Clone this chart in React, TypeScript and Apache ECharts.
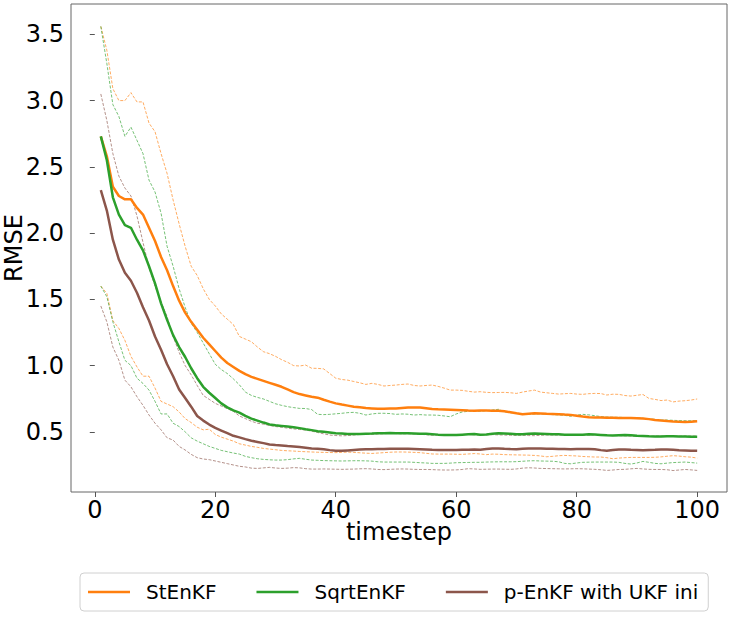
import React, { useEffect, useRef } from "react";
import * as echarts from "echarts";

const timesteps: number[] = Array.from({ length: 100 }, (_, i) => i + 1);

const stenkfMean: number[] = [
  2.73, 2.58, 2.35, 2.28, 2.255, 2.255, 2.19, 2.14, 2.04, 1.94,
  1.82, 1.72, 1.60, 1.49, 1.40, 1.33, 1.27, 1.21, 1.16, 1.11,
  1.06, 1.02, 0.99, 0.96, 0.935, 0.915, 0.90, 0.885, 0.87, 0.855,
  0.84, 0.82, 0.80, 0.785, 0.775, 0.765, 0.758, 0.742, 0.728, 0.715,
  0.706, 0.698, 0.69, 0.685, 0.68, 0.677, 0.674, 0.674, 0.676, 0.677,
  0.68, 0.683, 0.683, 0.684, 0.678, 0.672, 0.67, 0.669, 0.667, 0.665,
  0.663, 0.661, 0.66, 0.662, 0.661, 0.66, 0.66, 0.655, 0.648, 0.64,
  0.633, 0.637, 0.64, 0.638, 0.636, 0.635, 0.633, 0.63, 0.628, 0.622,
  0.616, 0.611, 0.609, 0.608, 0.607, 0.606, 0.605, 0.604, 0.604, 0.603,
  0.6, 0.596, 0.59, 0.585, 0.581, 0.578, 0.576, 0.575, 0.577, 0.58,
];
const stenkfUpper: number[] = [
  3.56, 3.38, 3.09, 3.0, 3.0, 3.06, 2.99, 2.99, 2.83, 2.765,
  2.6, 2.45, 2.25, 2.07, 1.9, 1.75, 1.68, 1.58, 1.5, 1.45,
  1.39, 1.35, 1.31, 1.22, 1.2, 1.18, 1.14, 1.105, 1.09, 1.07,
  1.045, 1.025, 1.0, 0.997, 1.004, 0.98, 0.979, 0.975, 0.94, 0.905,
  0.895, 0.89, 0.88, 0.87, 0.858, 0.866, 0.858, 0.846, 0.85, 0.853,
  0.858, 0.861, 0.85, 0.846, 0.85, 0.853, 0.843, 0.83, 0.815, 0.815,
  0.813, 0.806, 0.8, 0.803, 0.798, 0.796, 0.797, 0.798, 0.795, 0.79,
  0.8, 0.808, 0.815, 0.8, 0.795, 0.79, 0.785, 0.788, 0.79, 0.785,
  0.783, 0.788, 0.79, 0.789, 0.778, 0.784, 0.783, 0.774, 0.77, 0.776,
  0.782, 0.752, 0.745, 0.736, 0.74, 0.726, 0.732, 0.735, 0.74, 0.748,
];
const stenkfLower: number[] = [
  1.6, 1.545, 1.34, 1.28, 1.19, 1.07, 0.99, 0.92, 0.92, 0.83,
  0.73, 0.71, 0.69, 0.65, 0.6, 0.57, 0.535, 0.515, 0.52, 0.48,
  0.46, 0.445, 0.43, 0.41, 0.4, 0.39, 0.383, 0.375, 0.37, 0.365,
  0.36, 0.357, 0.355, 0.352, 0.35, 0.348, 0.346, 0.345, 0.344, 0.343,
  0.345, 0.347, 0.345, 0.342, 0.339, 0.337, 0.34, 0.343, 0.346, 0.348,
  0.348, 0.347, 0.345, 0.343, 0.338, 0.333, 0.332, 0.332, 0.332, 0.331,
  0.33, 0.333, 0.336, 0.333, 0.328, 0.332, 0.331, 0.328, 0.327, 0.326,
  0.325, 0.324, 0.322, 0.318, 0.312, 0.315, 0.32, 0.322, 0.32, 0.318,
  0.314, 0.312, 0.31, 0.31, 0.305, 0.297, 0.302, 0.305, 0.307, 0.307,
  0.307, 0.307, 0.308, 0.311, 0.316, 0.32, 0.317, 0.312, 0.309, 0.302,
];

const sqrtMean: number[] = [
  2.73, 2.55, 2.27, 2.14, 2.06, 2.04, 1.95, 1.87, 1.75, 1.62,
  1.47, 1.345, 1.23, 1.14, 1.065, 0.98, 0.905, 0.84, 0.795, 0.755,
  0.715, 0.685, 0.662, 0.645, 0.62, 0.6, 0.585, 0.57, 0.556, 0.549,
  0.545, 0.54, 0.535, 0.528, 0.52, 0.513, 0.505, 0.5, 0.495, 0.49,
  0.487, 0.484, 0.483, 0.484, 0.486, 0.487, 0.489, 0.49, 0.491, 0.49,
  0.489, 0.49, 0.488, 0.486, 0.485, 0.482, 0.479, 0.477, 0.476, 0.477,
  0.479, 0.481, 0.483, 0.478, 0.48, 0.486, 0.489, 0.487, 0.485, 0.482,
  0.481, 0.486, 0.488, 0.486, 0.484, 0.482, 0.481, 0.479, 0.478, 0.478,
  0.479, 0.481, 0.48, 0.477, 0.474, 0.472, 0.475, 0.477, 0.474, 0.47,
  0.468, 0.466, 0.465, 0.465, 0.466, 0.466, 0.465, 0.464, 0.463, 0.463,
];
const sqrtUpper: number[] = [
  3.56, 3.28, 2.97, 2.88, 2.73, 2.8, 2.7, 2.6, 2.4, 2.31,
  2.15, 1.9, 1.75, 1.58, 1.44, 1.32, 1.25, 1.17, 1.09, 1.01,
  0.97, 0.94, 0.9, 0.855, 0.8, 0.775, 0.76, 0.748, 0.73, 0.712,
  0.7, 0.69, 0.683, 0.677, 0.676, 0.668, 0.632, 0.63, 0.632, 0.636,
  0.64, 0.645, 0.647, 0.64, 0.627, 0.635, 0.64, 0.64, 0.638, 0.632,
  0.635, 0.633, 0.627, 0.63, 0.627, 0.627, 0.625, 0.62, 0.614, 0.635,
  0.65, 0.655, 0.658, 0.655, 0.66, 0.665, 0.67, 0.652, 0.645, 0.64,
  0.634, 0.633, 0.635, 0.636, 0.633, 0.63, 0.628, 0.624, 0.618, 0.626,
  0.632, 0.628, 0.622, 0.615, 0.612, 0.61, 0.61, 0.608, 0.607, 0.606,
  0.602, 0.598, 0.594, 0.59, 0.589, 0.587, 0.585, 0.584, 0.584, 0.584,
];
const sqrtLower: number[] = [
  1.6, 1.52, 1.33, 1.18, 1.04, 1.0, 0.905, 0.865, 0.815, 0.73,
  0.635, 0.635, 0.565, 0.54, 0.5, 0.455, 0.43, 0.41, 0.39, 0.375,
  0.36, 0.35, 0.34, 0.332, 0.315, 0.305, 0.297, 0.292, 0.289, 0.287,
  0.287, 0.29, 0.296, 0.3, 0.293, 0.287, 0.285, 0.283, 0.282, 0.281,
  0.28, 0.281, 0.282, 0.282, 0.281, 0.279, 0.274, 0.272, 0.272, 0.272,
  0.272, 0.272, 0.27, 0.267, 0.265, 0.262, 0.262, 0.262, 0.264, 0.267,
  0.268, 0.269, 0.27, 0.27, 0.272, 0.273, 0.274, 0.274, 0.274, 0.275,
  0.278, 0.281, 0.282, 0.28, 0.279, 0.278, 0.274, 0.262, 0.259, 0.265,
  0.27, 0.271, 0.272, 0.272, 0.272, 0.272, 0.27, 0.262, 0.257, 0.265,
  0.277, 0.27, 0.262, 0.259, 0.264, 0.268, 0.27, 0.272, 0.268, 0.264,
];

const penkfMean: number[] = [
  2.325, 2.17, 1.95, 1.8, 1.7, 1.64, 1.55, 1.44, 1.34, 1.22,
  1.12, 1.01, 0.92, 0.82, 0.755, 0.69, 0.62, 0.585, 0.555, 0.53,
  0.51, 0.49, 0.47, 0.458, 0.445, 0.433, 0.424, 0.415, 0.405, 0.4,
  0.397, 0.393, 0.39, 0.385, 0.38, 0.375, 0.372, 0.368, 0.362, 0.358,
  0.357, 0.36, 0.363, 0.366, 0.368, 0.368, 0.37, 0.371, 0.373, 0.373,
  0.372, 0.372, 0.37, 0.368, 0.366, 0.364, 0.363, 0.363, 0.363, 0.363,
  0.364, 0.365, 0.366, 0.365, 0.37, 0.374, 0.375, 0.372, 0.37, 0.369,
  0.372, 0.374, 0.375, 0.374, 0.373, 0.373, 0.371, 0.37, 0.369, 0.37,
  0.371, 0.37, 0.368, 0.362, 0.358, 0.363, 0.367, 0.366, 0.364, 0.363,
  0.362, 0.363, 0.364, 0.366, 0.367, 0.365, 0.362, 0.36, 0.358, 0.357,
];
const penkfUpper: number[] = [
  3.05, 2.85, 2.6, 2.43, 2.34, 2.28, 2.13, 1.93, 1.74, 1.6,
  1.48, 1.37, 1.22, 1.1, 1.0, 0.93, 0.85, 0.775, 0.745, 0.715,
  0.695, 0.675, 0.655, 0.62, 0.6, 0.58, 0.565, 0.558, 0.548, 0.54,
  0.535, 0.528, 0.522, 0.518, 0.514, 0.505, 0.495, 0.485, 0.476, 0.472,
  0.47, 0.472, 0.476, 0.48, 0.481, 0.482, 0.484, 0.486, 0.488, 0.487,
  0.485, 0.486, 0.484, 0.482, 0.478, 0.475, 0.475, 0.476, 0.477, 0.478,
  0.48, 0.481, 0.478, 0.476, 0.478, 0.479, 0.477, 0.476, 0.474, 0.473,
  0.474, 0.472, 0.471, 0.474, 0.476, 0.476, 0.476, 0.476, 0.476, 0.475,
  0.475, 0.476, 0.478, 0.48, 0.476, 0.472, 0.471, 0.47, 0.468, 0.466,
  0.466, 0.467, 0.468, 0.468, 0.467, 0.467, 0.467, 0.468, 0.468, 0.468,
];
const penkfLower: number[] = [
  1.45, 1.33, 1.14, 1.04, 0.89, 0.84, 0.765, 0.7, 0.627, 0.565,
  0.515, 0.455, 0.438, 0.39, 0.363, 0.33, 0.305, 0.295, 0.29, 0.28,
  0.27, 0.26, 0.25, 0.24, 0.235, 0.226, 0.224, 0.228, 0.232, 0.227,
  0.224, 0.226, 0.23, 0.228, 0.222, 0.219, 0.219, 0.22, 0.219, 0.218,
  0.217, 0.218, 0.219, 0.221, 0.222, 0.22, 0.216, 0.215, 0.217, 0.219,
  0.22, 0.219, 0.217, 0.216, 0.216, 0.215, 0.213, 0.212, 0.212, 0.213,
  0.216, 0.222, 0.22, 0.217, 0.218, 0.219, 0.219, 0.218, 0.217, 0.22,
  0.226, 0.229, 0.227, 0.224, 0.223, 0.222, 0.221, 0.22, 0.221, 0.222,
  0.221, 0.219, 0.217, 0.214, 0.209, 0.212, 0.216, 0.217, 0.221, 0.224,
  0.22, 0.217, 0.216, 0.216, 0.214, 0.208, 0.212, 0.216, 0.213, 0.209,
];

const xTicks: number[] = [0, 20, 40, 60, 80, 100];
const yTicks: number[] = [0.5, 1.0, 1.5, 2.0, 2.5, 3.0, 3.5];
const seriesNames: string[] = ["StEnKF", "SqrtEnKF", "p-EnKF with UKF ini"];
const seriesColors: string[] = ["#ff7f0e", "#2ca02c", "#8c564b"];

const FONT = "DejaVu Sans";

export default function App() {
  const ref = useRef<HTMLDivElement>(null);

  useEffect(() => {
    if (!ref.current) return;
    const chart = echarts.init(ref.current, null, { renderer: "svg" });
    const pair = (vals: number[]) => timesteps.map((t, i) => [t, vals[i]]);
    const groups = [
      { mean: stenkfMean, upper: stenkfUpper, lower: stenkfLower },
      { mean: sqrtMean, upper: sqrtUpper, lower: sqrtLower },
      { mean: penkfMean, upper: penkfUpper, lower: penkfLower },
    ];
    const series: any[] = [];
    groups.forEach((g, k) => {
      const color = seriesColors[k];
      series.push({
        name: seriesNames[k],
        type: "line",
        data: pair(g.mean),
        showSymbol: false,
        symbol: "none",
        lineStyle: { color, width: 2.5 },
        itemStyle: { color },
        z: 3,
      });
      [g.upper, g.lower].forEach((vals, j) => {
        series.push({
          name: seriesNames[k] + (j === 0 ? " upper" : " lower"),
          type: "line",
          data: pair(vals),
          showSymbol: false,
          symbol: "none",
          lineStyle: { color, width: 1, type: [3, 1.6], opacity: 0.65 },
          itemStyle: { color },
          z: 2,
        });
      });
    });

    chart.setOption({
      animation: false,
      backgroundColor: "#ffffff",
      textStyle: { fontFamily: FONT },
      grid: {
        left: 71,
        top: 4,
        width: 656,
        height: 488,
        containLabel: false,
        outerBoundsMode: "none",
        show: true,
        borderColor: "#666",
        borderWidth: 1,
        backgroundColor: "transparent",
      },
      xAxis: {
        type: "value",
        min: -3.95,
        max: 104.95,
        name: "timestep",
        nameLocation: "middle",
        nameGap: 28,
        nameMoveOverlap: false,
        nameTextStyle: { fontSize: 24, color: "#000", fontFamily: FONT },
        axisLine: { show: false },
        splitLine: { show: false },
        axisTick: {
          show: true,
          length: 5,
          lineStyle: { color: "#555" },
          customValues: xTicks,
        },
        axisLabel: {
          fontSize: 24,
          color: "#000",
          fontFamily: FONT,
          margin: 6,
          customValues: xTicks,
        },
      },
      yAxis: {
        type: "value",
        min: 0.046,
        max: 3.729,
        name: "RMSE",
        nameLocation: "middle",
        nameGap: 45,
        nameMoveOverlap: false,
        nameTextStyle: { fontSize: 24, color: "#000", fontFamily: FONT },
        axisLine: { show: false },
        splitLine: { show: false },
        axisTick: {
          show: true,
          length: 5,
          lineStyle: { color: "#555" },
          customValues: yTicks,
        },
        axisLabel: {
          fontSize: 24,
          color: "#000",
          fontFamily: FONT,
          margin: 7,
          customValues: yTicks,
          formatter: (v: number) => v.toFixed(1),
        },
      },
      legend: {
        data: seriesNames,
        left: 80,
        top: 573,
        orient: "horizontal",
        icon: "rect",
        itemWidth: 42,
        itemHeight: 2.5,
        itemGap: 40,
        padding: [9, 10, 9, 8],
        borderColor: "#d0d0d0",
        borderWidth: 1,
        borderRadius: 4,
        backgroundColor: "#fff",
        textStyle: {
          fontSize: 20,
          color: "#000",
          fontFamily: FONT,
          padding: [0, 0, 0, 11],
        },
      },
      series,
    });
    return () => chart.dispose();
  }, []);

  return (
    <div
      ref={ref}
      style={{ position: "fixed", left: 0, top: 0, width: 731, height: 617 }}
    />
  );
}
